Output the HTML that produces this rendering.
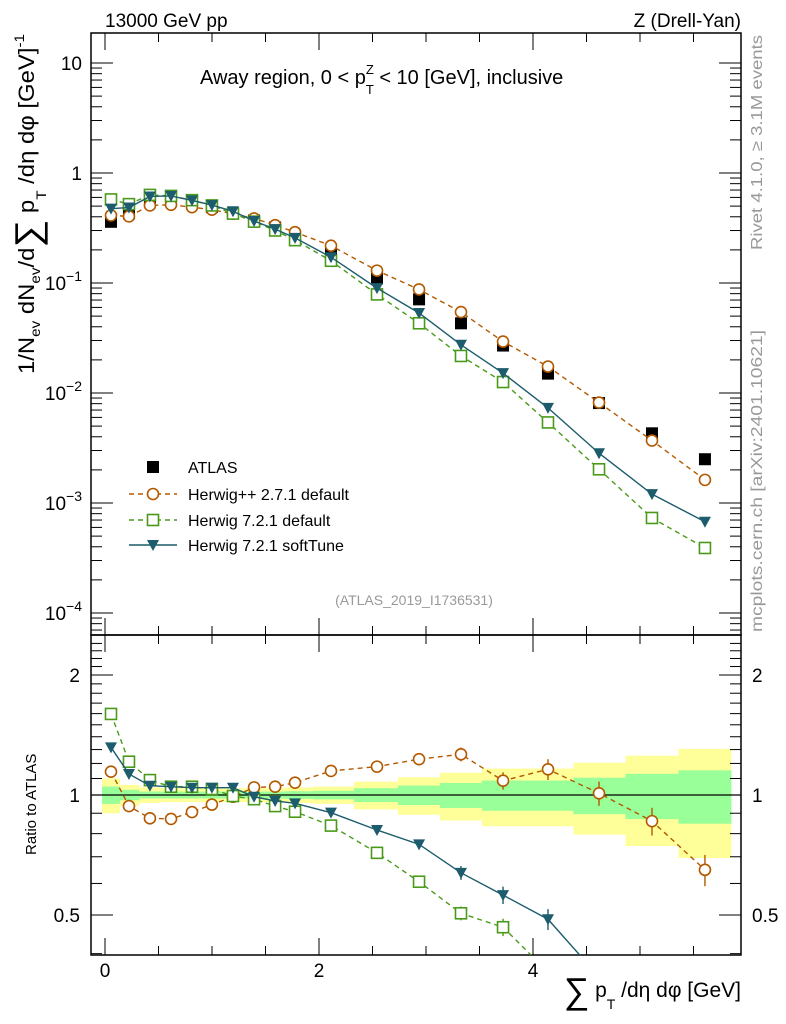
<!DOCTYPE html>
<html><head><meta charset="utf-8"><style>
html,body{margin:0;padding:0;background:#fff;overflow:hidden}
svg{display:block;font-family:"Liberation Sans",sans-serif}
</style></head><body>
<svg id="chart" width="786" height="1024" viewBox="0 0 786 1024" xmlns="http://www.w3.org/2000/svg">
<g id="bands"></g>
<g id="axes"></g>
<g id="series"></g>
<text x="105" y="27" font-size="19">13000 GeV pp</text>
<text x="741" y="27" font-size="19" text-anchor="end">Z (Drell-Yan)</text>
<text x="200" y="84" font-size="20">Away region, 0 &lt; p<tspan font-size="13" dy="10">T</tspan><tspan font-size="13" dx="-8" dy="-20">Z</tspan><tspan dy="10"> &lt; 10 [GeV], inclusive</tspan></text>
<text x="414" y="605" font-size="14" fill="#999" text-anchor="middle">(ATLAS_2019_I1736531)</text>
<text transform="translate(762,250) rotate(-90)" font-size="16" fill="#999" textLength="215" lengthAdjust="spacingAndGlyphs">Rivet 4.1.0, ≥ 3.1M events</text>
<text transform="translate(762,632) rotate(-90)" font-size="16" fill="#999" textLength="302" lengthAdjust="spacingAndGlyphs">mcplots.cern.ch [arXiv:2401.10621]</text>
<text transform="translate(34,374) rotate(-90)" font-size="22" textLength="340" lengthAdjust="spacingAndGlyphs">1/N<tspan font-size="14" dy="6">ev</tspan><tspan dy="-6"> dN</tspan><tspan font-size="14" dy="6">ev</tspan><tspan dy="-6">/d</tspan><tspan font-size="36" dy="6">∑</tspan><tspan dy="-6"> p</tspan><tspan font-size="14" dy="12">T</tspan><tspan dy="-12"> /dη dφ  [GeV]</tspan><tspan font-size="14" dy="-10">-1</tspan></text>
<text transform="translate(36,855) rotate(-90)" font-size="15">Ratio to ATLAS</text>
<text x="741" y="997" font-size="21" text-anchor="end"><tspan font-size="36" dy="6">∑</tspan><tspan dy="-6"> p</tspan><tspan font-size="14" dy="12">T</tspan><tspan dy="-12"> /dη dφ [GeV]</tspan></text>
<g id="legend"></g>
</svg>
<script>
const xVals=[0.056,0.224,0.42,0.617,0.813,0.999,1.196,1.393,1.59,1.776,2.112,2.542,2.935,3.327,3.72,4.14,4.617,5.112,5.607];
const atlas=[0.36,0.43,0.58,0.59,0.54,0.49,0.43,0.37,0.32,0.27,0.19,0.11,0.071,0.043,0.027,0.015,0.0081,0.0043,0.0025];
const ratioHpp=[1.144,0.938,0.874,0.871,0.906,0.946,0.99,1.045,1.049,1.074,1.149,1.178,1.23,1.265,1.086,1.16,1.01,0.86,0.649];
const ratioH7=[1.597,1.212,1.09,1.049,1.049,1.035,0.994,0.976,0.938,0.908,0.838,0.716,0.606,0.505,0.466,0.36,0.25,0.17,0.156];
const ratioSoft=[1.317,1.129,1.055,1.049,1.043,1.043,1.043,0.99,0.966,0.953,0.903,0.817,0.752,0.638,0.561,0.488,0.35,0.28,0.27];
const totErr=[0.1,0.06,0.045,0.04,0.04,0.04,0.04,0.04,0.04,0.045,0.05,0.08,0.108,0.137,0.165,0.165,0.205,0.255,0.305];
const statErr=[0.05,0.03,0.02,0.02,0.02,0.02,0.02,0.02,0.02,0.022,0.025,0.04,0.056,0.072,0.087,0.087,0.105,0.13,0.153];
const xTicks=[0,2,4];
const ratioTicks=[0.5,1,2];

const NS="http://www.w3.org/2000/svg";
const L=91,R=741,T=33,MB=635,RB=955;
const X=v=>105+107*v;
const Y=v=>173-110*Math.log10(v);
const RY=v=>795-398.7*Math.log10(v);
function mk(tag,attrs,parent){const e=document.createElementNS(NS,tag);for(const k in attrs)e.setAttribute(k,attrs[k]);parent.appendChild(e);return e;}
const axes=document.getElementById('axes'),bands=document.getElementById('bands'),series=document.getElementById('series');

for(let i=0;i<xVals.length;i++){
  const x0=i==0?X(xVals[0])-(X(xVals[1])-X(xVals[0]))/2:(X(xVals[i-1])+X(xVals[i]))/2;
  const x1=i==xVals.length-1?X(xVals[i])+(X(xVals[i])-X(xVals[i-1]))/2:(X(xVals[i])+X(xVals[i+1]))/2;
  const y=mk('rect',{x:x0,y:RY(1+totErr[i]),width:x1-x0,height:RY(1-totErr[i])-RY(1+totErr[i]),fill:'#ffff99'},bands);
  
  
  const g=mk('rect',{x:x0,y:RY(1+statErr[i]),width:x1-x0,height:RY(1-statErr[i])-RY(1+statErr[i]),fill:'#99ff99'},bands);
  
  
}
mk('rect',{x:L,y:T,width:R-L,height:MB-T,fill:'none',stroke:'#000','stroke-width':1.5},axes);
mk('rect',{x:L,y:MB,width:R-L,height:RB-MB,fill:'none',stroke:'#000','stroke-width':1.5},axes);
mk('line',{x1:L,x2:R,y1:RY(1),y2:RY(1),stroke:'#000','stroke-width':1.2},axes);
for(let d=-5;d<=1;d++)for(let m=1;m<=9;m++){const v=m*Math.pow(10,d);const y=Y(v);if(y<T||y>MB)continue;const len=m==1?22:11;
  mk('line',{x1:L,x2:L+len,y1:y,y2:y,stroke:'#000'},axes);mk('line',{x1:R,x2:R-len,y1:y,y2:y,stroke:'#000'},axes);}
const ylab=[[10,'10'],[1,'1'],[0.1,'10','−1'],[0.01,'10','−2'],[0.001,'10','−3'],[0.0001,'10','−4']];
ylab.forEach(a=>{const t=mk('text',{x:a[2]?62:82,y:Y(a[0])+7,'font-size':19,'text-anchor':'end'},axes);t.textContent=a[1];
  
  
  if(a[2]){const s=mk('tspan',{'font-size':14,dy:-9},t);s.textContent=a[2];t.setAttribute('x',82);t.setAttribute('text-anchor','end');}});
for(let v=0.4;v<=2.5;v+=0.1){const r=Math.round(v*10)/10;const y=RY(r);if(y<MB||y>RB)continue;const len=(r==0.5||r==1||r==2)?22:11;
  mk('line',{x1:L,x2:L+len,y1:y,y2:y,stroke:'#000'},axes);mk('line',{x1:R,x2:R-len,y1:y,y2:y,stroke:'#000'},axes);}
ratioTicks.forEach(v=>{const a=mk('text',{x:80,y:RY(v)+7,'font-size':19,'text-anchor':'end'},axes);a.textContent=String(v);
  
  
  const b=mk('text',{x:752,y:RY(v)+7,'font-size':19},axes);b.textContent=String(v);
  
  });
for(let k=0;k<=11;k++){const v=k*0.5;const x=X(v);if(x>R)continue;const len=(k%4==0)?17:9;
  [[T,1],[MB,-1],[MB,1],[RB,-1]].forEach(p=>mk('line',{x1:x,x2:x,y1:p[0],y2:p[0]+p[1]*len,stroke:'#000'},axes));}
xTicks.forEach(v=>{const t=mk('text',{x:X(v),y:977,'font-size':19,'text-anchor':'middle'},axes);t.textContent=String(v);
  
  });

const defs=[
 {name:'herwigpp-271',r:ratioHpp,c:'#b35900',dash:'5,4',m:'circle'},
 {name:'herwig-721-default',r:ratioH7,c:'#4a9a1a',dash:'5,4',m:'square'},
 {name:'herwig-721-softtune',r:ratioSoft,c:'#1c5c6c',dash:'',m:'tri'}];
function marker(type,x,y,c,parent){
  if(type=='circle')return mk('circle',{cx:x,cy:y,r:5.5,fill:'#fff',stroke:c,'stroke-width':1.6},parent);
  if(type=='square')return mk('rect',{x:x-5.5,y:y-5.5,width:11,height:11,fill:'#fff',stroke:c,'stroke-width':1.6},parent);
  if(type=='tri')return mk('path',{d:`M${x-6},${y-5}L${x+6},${y-5}L${x},${y+6}Z`,fill:c},parent);
  return mk('rect',{x:x-6,y:y-6,width:12,height:12,fill:'#000'},parent);
}
const clipM=mk('clipPath',{id:'cm'},series);mk('rect',{x:L,y:T,width:R-L,height:MB-T},clipM);
const clipR=mk('clipPath',{id:'cr'},series);mk('rect',{x:L,y:MB,width:R-L,height:RB-MB},clipR);
const gm=mk('g',{'clip-path':'url(#cm)'},series),gr=mk('g',{'clip-path':'url(#cr)'},series);
atlas.forEach((v,i)=>{const e=marker('data',X(xVals[i]),Y(v),'#000',gm);
  
  });
defs.forEach(s=>{
  const main=s.r.map((r,i)=>r*atlas[i]);
  const pm=mk('polyline',{points:main.map((v,i)=>X(xVals[i])+','+Y(v)).join(' '),fill:'none',stroke:s.c,'stroke-width':1.4,'stroke-dasharray':s.dash},gm);
  
  
  const pr=mk('polyline',{points:s.r.map((v,i)=>X(xVals[i])+','+RY(v)).join(' '),fill:'none',stroke:s.c,'stroke-width':1.4,'stroke-dasharray':s.dash},gr);
  
  
  main.forEach((v,i)=>{const e=marker(s.m,X(xVals[i]),Y(v),s.c,gm);
    
    });
  s.r.forEach((v,i)=>{
    if(i>=13){const x=X(xVals[i]);const e=0.04+0.01*(i-13);mk('line',{x1:x,x2:x,y1:RY(v*(1+e)),y2:RY(v*(1-e)),stroke:s.c,'stroke-width':1.4},gr);}
    const e=marker(s.m,X(xVals[i]),RY(v),s.c,gr);
    
    });
});
const lg=document.getElementById('legend');
const rows=[['ATLAS','data',null,''],['Herwig++ 2.7.1 default','circle','#b35900','5,4'],['Herwig 7.2.1 default','square','#4a9a1a','5,4'],['Herwig 7.2.1 softTune','tri','#1c5c6c','']];
rows.forEach((r,i)=>{const y=[467,494,520,545][i];
  if(r[2])mk('line',{x1:129,x2:177,y1:y,y2:y,stroke:r[2],'stroke-width':1.4,'stroke-dasharray':r[3]},lg);
  const m=marker(r[1],153,y,r[2]||'#000',lg);
  
  
  const t=mk('text',{x:188,y:y+6,'font-size':16},lg);t.textContent=r[0];
  
  });
</script>
</body></html>
